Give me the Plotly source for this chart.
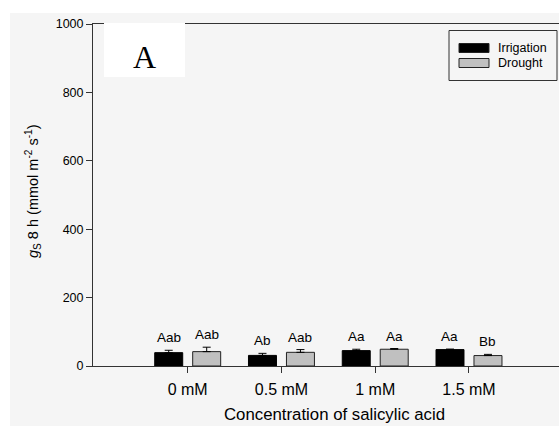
import plotly.graph_objects as go

categories = ["0 mM", "0.5 mM", "1 mM", "1.5 mM"]
irrigation = [39, 31, 45, 48]
irrigation_err = [7, 6, 4, 1.5]
drought = [42, 40, 49, 30.5]
drought_err = [13, 8, 2, 3.5]
irrigation_letters = ["Aab", "Ab", "Aa", "Aa"]
drought_letters = ["Aab", "Aab", "Aa", "Bb"]
y_ticks = [0, 200, 400, 600, 800, 1000]
series_names = ["Irrigation", "Drought"]
series_colors = ["#000000", "#c0c0c0"]

W, H = 559, 426
L, R, T, B = 93, 0, 24, 60
pw = W - L - R
ph = H - T - B

def px_x(px):
    return (px - L) / pw

def px_y(py):
    return (H - B - py) / ph

AX = "#333333"
FONT = "Liberation Sans, Arial, sans-serif"

fig = go.Figure()
fig.add_trace(go.Bar(
    name=series_names[0], x=categories, y=irrigation,
    marker=dict(color=series_colors[0], line=dict(color="#000000", width=1)),
    error_y=dict(type="data", array=irrigation_err, symmetric=False,
                 arrayminus=[0] * 4, color="#000000", thickness=1, width=4),
))
fig.add_trace(go.Bar(
    name=series_names[1], x=categories, y=drought,
    marker=dict(color=series_colors[1], line=dict(color="#222222", width=1)),
    error_y=dict(type="data", array=drought_err, symmetric=False,
                 arrayminus=[0] * 4, color="#000000", thickness=1, width=4),
))

annotations = []
for i, c in enumerate(categories):
    annotations.append(dict(
        x=c, y=irrigation[i] + irrigation_err[i], xref="x", yref="y",
        text=irrigation_letters[i], showarrow=False, xanchor="center",
        yanchor="bottom", yshift=3, xshift=-19,
        font=dict(family=FONT, size=13.5, color="#000")))
    annotations.append(dict(
        x=c, y=drought[i] + drought_err[i], xref="x", yref="y",
        text=drought_letters[i], showarrow=False, xanchor="center",
        yanchor="bottom", yshift=3, xshift=19,
        font=dict(family=FONT, size=13.5, color="#000")))

annotations.append(dict(
    x=px_x(144), y=px_y(57), xref="paper", yref="paper",
    text="A", showarrow=False, xanchor="center", yanchor="middle",
    font=dict(family="Liberation Serif, Times New Roman, serif", size=32, color="#000")))

annotations.append(dict(
    x=px_x(334), y=px_y(414), xref="paper", yref="paper",
    text="Concentration of salicylic acid", showarrow=False,
    xanchor="center", yanchor="middle",
    font=dict(family=FONT, size=16.8, color="#000")))

annotations.append(dict(
    x=px_x(33), y=px_y(191), xref="paper", yref="paper",
    text="<i>g</i><sub>S</sub> 8 h (mmol m<sup>-2</sup> s<sup>-1</sup>)",
    showarrow=False, textangle=-90, xanchor="center", yanchor="middle",
    font=dict(family=FONT, size=14.5, color="#000")))

# custom legend (wide swatches like the reference)
legend_rows = [48, 63]
for name, color, yc in zip(series_names, series_colors, legend_rows):
    annotations.append(dict(
        x=px_x(496), y=px_y(yc), xref="paper", yref="paper",
        text=name, showarrow=False, xanchor="left", yanchor="middle",
        font=dict(family=FONT, size=12.5, color="#000")))

shapes = [
    dict(type="rect", xref="paper", yref="paper", layer="below",
         x0=px_x(10), x1=px_x(W + 5), y0=px_y(13), y1=px_y(H + 5),
         fillcolor="#f5f5f5", line=dict(width=0)),
    dict(type="rect", xref="paper", yref="paper", layer="above",
         x0=px_x(104), x1=px_x(185), y0=px_y(23), y1=px_y(77),
         fillcolor="#ffffff", line=dict(width=0)),
    dict(type="rect", xref="paper", yref="paper", layer="above",
         x0=px_x(449), x1=px_x(557), y0=px_y(30.5), y1=px_y(80.5),
         fillcolor="#f5f5f5", line=dict(color="#333333", width=1)),
]
for color, yc in zip(series_colors, legend_rows):
    shapes.append(dict(
        type="rect", xref="paper", yref="paper", layer="above",
        x0=px_x(459), x1=px_x(489), y0=px_y(yc - 4.5), y1=px_y(yc + 4.5),
        fillcolor=color, line=dict(color="#222222", width=1)))

fig.update_layout(
    width=W, height=H,
    margin=dict(l=L, r=R, t=T, b=B, autoexpand=False),
    paper_bgcolor="#ffffff",
    plot_bgcolor="rgba(0,0,0,0)",
    barmode="group", bargap=0.19, bargroupgap=0.263,
    font=dict(family=FONT, color="#000"),
    showlegend=False,
    xaxis=dict(
        type="category", range=[-1.01, 3.96],
        showline=True, linecolor=AX, linewidth=1, mirror=True,
        ticks="outside", ticklen=6, tickcolor=AX, tickwidth=1,
        ticklabelstandoff=3,
        tickfont=dict(family=FONT, size=16, color="#000"),
        showgrid=False, zeroline=False,
    ),
    yaxis=dict(
        range=[0, 1000], tickvals=y_ticks,
        showline=True, linecolor=AX, linewidth=1,
        ticks="outside", ticklen=6, tickcolor=AX, tickwidth=1,
        tickfont=dict(family=FONT, size=12.5, color="#000"),
        showgrid=False, zeroline=False,
    ),
    annotations=annotations,
    shapes=shapes,
)

fig.write_html("out.html")
